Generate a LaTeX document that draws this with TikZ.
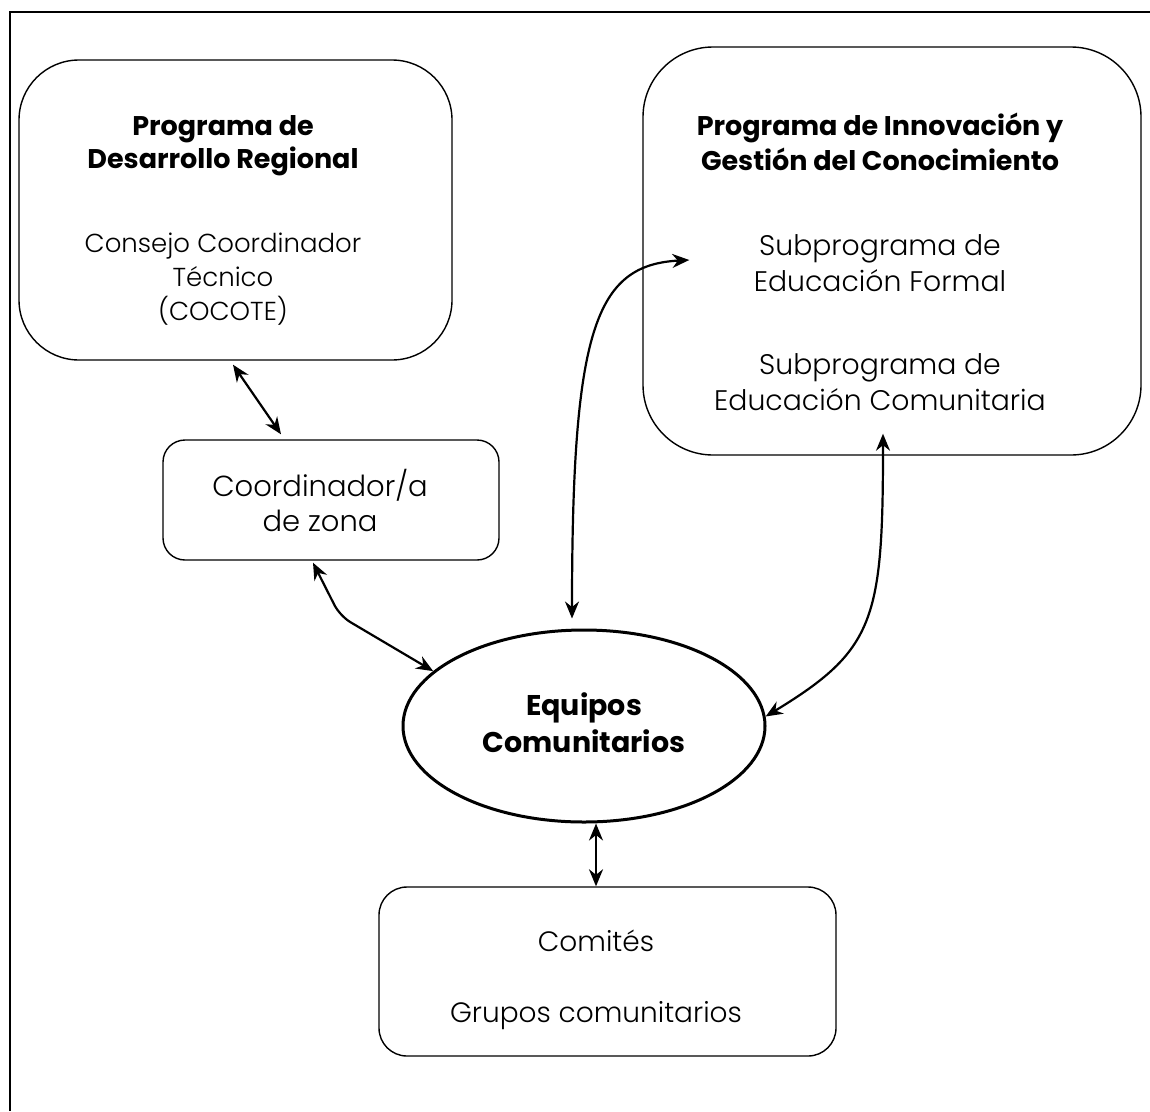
\documentclass[tikz,border=0pt]{standalone}
\usepackage{fontspec}
\setmainfont{Poppins}[UprightFont=* Light,BoldFont=* Bold]
\usetikzlibrary{shapes.geometric,arrows.meta}
\tikzset{
  box/.style={draw,line width=1.4pt,rectangle,inner sep=0pt},
  txt/.style={align=center,anchor=base,inner sep=0pt},
  arr/.style={line width=2.2pt,{Stealth[length=17pt,width=14pt]}-{Stealth[length=17pt,width=14pt]}},
}
\begin{document}
\begin{tikzpicture}[x=1pt,y=-1pt]
\useasboundingbox (0,0) rectangle (1150,1111);
\fill[white] (0,0) rectangle (1150,1111);
\draw[line width=2pt] (10,1111) -- (10,12) -- (1150,12);

\node[box,rounded corners=60pt,minimum width=433pt,minimum height=300pt] (b1) at (235.5,210) {};
\node[box,rounded corners=70pt,minimum width=498pt,minimum height=408pt] (b2) at (892,251) {};
\node[box,rounded corners=22pt,minimum width=336pt,minimum height=120pt] (b3) at (331,500) {};
\node[box,rounded corners=28pt,minimum width=457pt,minimum height=169pt] (b4) at (607.5,971.5) {};
\node[draw,ellipse,line width=3pt,minimum width=362pt,minimum height=192pt,inner sep=0pt] (eq) at (584,726) {};

% anchor=base of a multi-line node is the baseline of its last line
\node[txt,font=\bfseries\fontsize{27}{33}\selectfont] (t1) at (223,168) {Programa de\\Desarrollo Regional};
\node[txt,font=\fontsize{26}{34}\selectfont] (t2) at (223,320) {Consejo Coordinador\\Técnico\\(COCOTE)};
\node[txt,font=\bfseries\fontsize{27}{35}\selectfont] (t3) at (880,170) {Programa de Innovación y\\Gestión del Conocimiento};
\node[txt,font=\fontsize{28.3}{36}\selectfont] (t4) at (880,291) {Subprograma de\\Educación Formal};
\node[txt,font=\fontsize{28.3}{36}\selectfont] (t5) at (880,410) {Subprograma de\\Educación Comunitaria};
\node[txt,font=\fontsize{29}{35}\selectfont] (t6) at (320,531) {Coordinador/a\\de zona};
\node[txt,font=\bfseries\fontsize{28.5}{37}\selectfont] (t7) at (584,752) {Equipos\\Comunitarios};
\node[txt,font=\fontsize{28}{35}\selectfont] (t8) at (596,951) {Comités};
\node[txt,font=\fontsize{28}{35}\selectfont] (t9) at (596,1022) {Grupos comunitarios};

\coordinate (k1) at (340,616);
\draw[arr] ([xshift=-2.5pt,yshift=-4pt]b1.south) -- ([xshift=-50pt,yshift=5pt]b3.north);
\draw[arr,rounded corners=12pt] ([xshift=-18pt,yshift=-2pt]b3.south) -- (k1) -- (eq.160);
\draw[arr] ([xshift=-12pt,yshift=10pt]eq.north) .. controls (572,330) and (595,265) .. ([xshift=47pt,yshift=-9pt]b2.west);
\draw[arr] ([xshift=-9pt,yshift=22pt]b2.south) .. controls (883,620) and (875,650) .. (eq.3);
\draw[arr] ([xshift=12pt]eq.south) -- ([xshift=-11.5pt]b4.north);
\end{tikzpicture}
\end{document}
